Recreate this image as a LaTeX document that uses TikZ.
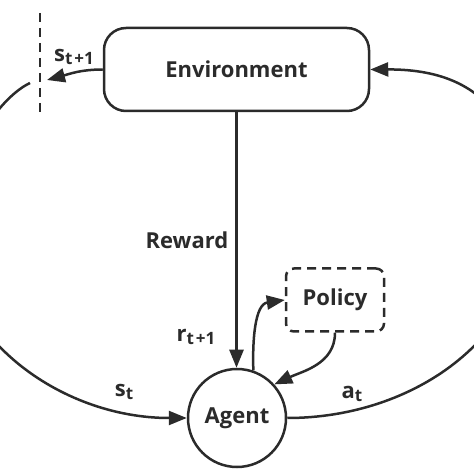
\documentclass[tikz,border=0pt]{standalone}
\usepackage{fontspec}
\setmainfont{Open Sans}
\usetikzlibrary{arrows.meta}
\definecolor{ink}{HTML}{2B2B2B}
\newcommand{\lbl}[2]{{\fontsize{22}{26}\selectfont #1\raisebox{-3.5pt}{\fontsize{17}{17}\selectfont #2}}}
\begin{document}
\begin{tikzpicture}[x=1pt,y=1pt, line width=2.5pt, color=ink,
  font=\fontsize{22}{26}\selectfont\bfseries,
  arr/.style={-{Triangle[length=18pt,width=14pt]}},
  box/.style={draw, inner sep=0pt},
  lab/.style={inner sep=1pt}]
\useasboundingbox (0,0) rectangle (474,474);
\node[box, rounded corners=22pt, minimum width=265pt, minimum height=83pt] (env) at (236.5,404.5) {Environment};
\node[box, circle, minimum size=98pt] (agent) at (237,56) {Agent};
\node[box, dash pattern=on 9pt off 6pt, rounded corners=8pt, minimum width=98pt, minimum height=63pt] (policy) at (335,174) {Policy};
% dashed cut line
\coordinate (dtop) at (40,461);
\coordinate (dbot) at (40,359);
\draw[dash pattern=on 9pt off 6pt] (dtop) -- (dbot);
\coordinate (snext) at (47,394);
\draw[arr] (env.west) to[out=180,in=15] (snext);
% loops
\begin{scope}
\clip (0,0) rectangle (474,474);
\coordinate (lstart) at (30,391);
\coordinate (lfar) at (-50,240);
\coordinate (rfar) at (524,240);
\draw[arr] (lstart) .. controls (-6,374) and (-50,300) .. (lfar) .. controls (-50,140) and (58,56) .. (agent.west);
\draw[arr] (agent.east) .. controls (417,56) and (524,140) .. (rfar) .. controls (524,330) and (500,405) .. (env.east);
\end{scope}
% reward
\draw[arr] (env.south) -- (env.south |- agent.north);
% policy loop
\draw[arr] (agent.71) to[out=92,in=188] (policy.west);
\draw[arr] (policy.south) to[out=270,in=25] (agent.42);
% labels
\node[lab] (lsn) at (74,417) {\lbl{s}{t\hspace{2pt}+1}};
\node[lab] (lrew) at (187,234) {Reward};
\node[lab] (lr) at (196,137) {\lbl{r}{t\hspace{2pt}+1}};
\node[lab] (lst) at (124,82) {\lbl{s}{t}};
\node[lab] (lat) at (352,80) {\lbl{a}{t}};
\end{tikzpicture}
\end{document}
